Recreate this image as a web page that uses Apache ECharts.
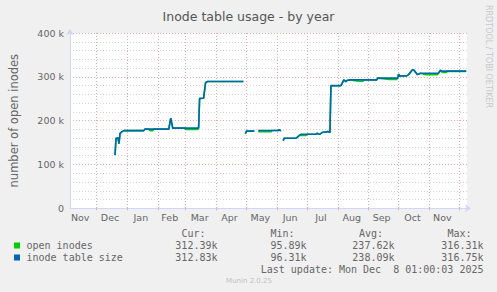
<!DOCTYPE html>
<html><head><meta charset="utf-8">
<script src="https://cdn.jsdelivr.net/npm/echarts@6/dist/echarts.min.js"></script>
<style>html,body{margin:0;padding:0;background:#f0f0f0}#c{width:497px;height:292px}</style>
</head><body><div id="c"></div>
<script>
// ---- data (values in thousands) ----
const dates = [
'2024-12-20','2024-12-21','2024-12-23','2024-12-24','2024-12-25','2024-12-27','2024-12-29',
'2025-01-18','2025-01-19','2025-01-23','2025-01-24','2025-01-27','2025-01-28',
'2025-02-12','2025-02-14','2025-02-16','2025-02-28',
'2025-03-01','2025-03-13','2025-03-14','2025-03-15','2025-03-19','2025-03-21','2025-03-23',
'2025-04-28','2025-04-29','2025-04-30','2025-05-01','2025-05-09','2025-05-10',
'2025-05-13','2025-05-26','2025-05-27','2025-06-02','2025-06-03','2025-06-04','2025-06-05','2025-06-06',
'2025-06-07','2025-06-08','2025-06-20','2025-06-21','2025-06-23','2025-06-25','2025-06-30',
'2025-07-01','2025-07-10','2025-07-11','2025-07-14','2025-07-16','2025-07-22','2025-07-24','2025-07-25',
'2025-08-04','2025-08-05','2025-08-07','2025-08-09','2025-08-10','2025-08-13','2025-08-22','2025-08-26','2025-08-27',
'2025-09-09','2025-09-10','2025-09-22','2025-09-29','2025-09-30',
'2025-10-01','2025-10-02','2025-10-03','2025-10-09','2025-10-11','2025-10-15','2025-10-16','2025-10-20','2025-10-23','2025-10-28',
'2025-11-09','2025-11-10','2025-11-12','2025-11-14','2025-11-18','2025-11-19','2025-12-08'
];
const tableSize = [
122,160,161,148,171,175,177.3,
177.3,180.6,180.6,180.6,180.6,180.6,
180.6,206,183,183,
183,183,183,251,251,287,289.5,
289.5,null,170,176,176,null,
177.4,177.4,177.4,177.4,179.5,177.4,177.4,null,
154.5,160,160,162,166,169,169,
169,169,171,169,173,175,173,280,
280,284,293,289,291.7,293,293,293,293,
293,297,297,297,297,
306,301,302.4,302,305,316,316,305,308,308,
308,308,315,313,313,313,313
];
const openInodes = [
121,159,160,147,170,175,177.3,
177.3,180.6,180.6,177.3,177.3,180.6,
180.6,205,183,183,
180,180,183,250,251,286,289.5,
289.5,null,170,176,176,null,
175,175,177.4,177.4,179.5,177.4,177.4,null,
154.5,160,160,162,166,166,166,
169,169,171,169,173,175,173,279,
280,284,293,289,291.7,293,290,290,293,
293,297,294,294,297,
306,301,302.4,302,305,316,316,305,308,305,
305,308,315,310,310,313,312.4
];
const monthStarts = ['2024-12-01','2025-01-01','2025-02-01','2025-03-01','2025-04-01','2025-05-01','2025-06-01','2025-07-01','2025-08-01','2025-09-01','2025-10-01','2025-11-01','2025-12-01'];
const monthLabelDates = ['2024-11-15','2024-12-15','2025-01-15','2025-02-13','2025-03-15','2025-04-14','2025-05-15','2025-06-14','2025-07-15','2025-08-15','2025-09-14','2025-10-15','2025-11-14'];
const monthLabels = ['Nov','Dec','Jan','Feb','Mar','Apr','May','Jun','Jul','Aug','Sep','Oct','Nov'];
const yTickValues = [0,100,200,300,400];
const statHeaders = ['Cur:','Min:','Avg:','Max:'];
const openStats = ['312.39k','95.89k','237.62k','316.31k'];
const sizeStats = ['312.83k','96.31k','238.09k','316.75k'];
const seriesNames = ['open inodes','inode table size'];
const seriesColors = ['#00cc00','#0066b3'];
const lastUpdate = 'Last update: Mon Dec  8 01:00:03 2025';

// ---- build ----
const t = s => Date.parse(s + 'T00:00:00Z');
const xMin = Date.parse('2024-11-04T18:00:00Z');
const xMax = Date.parse('2025-12-08T18:00:00Z');
const mk = arr => dates.map((d, i) => [t(d), arr[i] == null ? null : arr[i] * 1000]);
const labelTimes = monthLabelDates.map(t);

const FONT = 'DejaVu Sans';
const MONO = 'DejaVu Sans Mono';
const fc = '#666666';
const gridLine = '#f0a8a8';
const valCols = [217.5, 306.5, 394.5, 483.5];
const headCols = [181.5, 270.5, 359, 447.5];

function txt(text, x, y, align, font, fill) {
  return { type: 'text', x: x, y: y, silent: true,
    style: { text: text, x: 0, y: 0, font: font, fill: fill || fc,
      align: align, textAlign: align, verticalAlign: 'middle', textVerticalAlign: 'middle' } };
}
const graphics = [];
statHeaders.forEach((h, i) => graphics.push(txt(h, headCols[i], 233.5, 'left', '10px ' + MONO)));
[openStats, sizeStats].forEach((row, r) => {
  const y = r === 0 ? 245.5 : 257.5;
  graphics.push({ type: 'rect', silent: true, shape: { x: 14, y: y - 3, width: 6, height: 6 }, style: { fill: seriesColors[r] } });
  graphics.push(txt(seriesNames[r], 26.5, y, 'left', '10px ' + MONO));
  row.forEach((v, i) => graphics.push(txt(v, valCols[i], y, 'right', '10px ' + MONO)));
});
graphics.push(txt(lastUpdate, 483.5, 269.5, 'right', '10px ' + MONO));
graphics.push(txt('Munin 2.0.25', 249, 281, 'center', '7px ' + FONT, '#c0c0c0'));
graphics.push({ type: 'text', x: 488, y: 5, rotation: -Math.PI / 2, silent: true,
  style: { text: 'RRDTOOL / TOBI OETIKER', x: 0, y: 0, font: '8px ' + FONT, fill: '#c8c8c8',
    align: 'left', textAlign: 'left', verticalAlign: 'middle', textVerticalAlign: 'middle' } });

const chart = echarts.init(document.getElementById('c'), null, { renderer: 'svg' });
chart.setOption({
  animation: false,
  backgroundColor: '#f0f0f0',
  title: { text: 'Inode table usage - by year', left: 'center', top: 5,
    textStyle: { fontFamily: FONT, fontSize: 12.5, fontWeight: 'normal', color: '#555' } },
  grid: { left: 67, right: 30, top: 33, height: 175.3, backgroundColor: '#ffffff', show: true, borderWidth: 0 },
  xAxis: {
    type: 'value', min: xMin, max: xMax,
    axisLine: { show: true, lineStyle: { color: '#CFD6F8', width: 1 }, symbol: ['none', 'arrow'], symbolSize: [6, 6], symbolOffset: [0, 4] },
    axisTick: { show: true, customValues: monthStarts.map(t), length: 2, inside: false, lineStyle: { color: gridLine } },
    axisLabel: { customValues: labelTimes, margin: 4, color: fc, fontFamily: FONT, fontSize: 9.5,
      formatter: v => { const i = labelTimes.indexOf(v); return i >= 0 ? monthLabels[i] : ''; } },
    splitLine: { show: true, lineStyle: { color: gridLine, type: [1, 2], width: 1 } }
  },
  yAxis: {
    type: 'value', min: 0, max: 400000, interval: 100000,
    name: 'number of open inodes', nameLocation: 'middle', nameGap: 50,
    nameTextStyle: { fontFamily: FONT, fontSize: 11.5, color: fc },
    axisLine: { show: true, lineStyle: { color: '#CFD6F8', width: 1 }, symbol: ['none', 'arrow'], symbolSize: [6, 6], symbolOffset: [0, 4] },
    axisTick: { show: false },
    axisLabel: { margin: 6, color: fc, fontFamily: FONT, fontSize: 9.5,
      formatter: v => { const k = v / 1000; return yTickValues.indexOf(k) >= 0 ? (k === 0 ? '0' : k + ' k') : ''; } },
    splitLine: { show: true, lineStyle: { color: gridLine, type: [1, 2], width: 1 } },
    minorTick: { show: false, splitNumber: 5 },
    minorSplitLine: { show: true, lineStyle: { color: '#d4d4d4', type: [1, 2], width: 1 } }
  },
  series: [
    { name: seriesNames[0], type: 'line', data: mk(openInodes), showSymbol: false, connectNulls: false,
      lineStyle: { color: seriesColors[0], width: 1.6 }, itemStyle: { color: seriesColors[0] }, z: 2 },
    { name: seriesNames[1], type: 'line', data: mk(tableSize), showSymbol: false, connectNulls: false,
      lineStyle: { color: seriesColors[1], width: 1.6 }, itemStyle: { color: seriesColors[1] }, z: 3 }
  ],
  graphic: graphics
});
</script></body></html>
